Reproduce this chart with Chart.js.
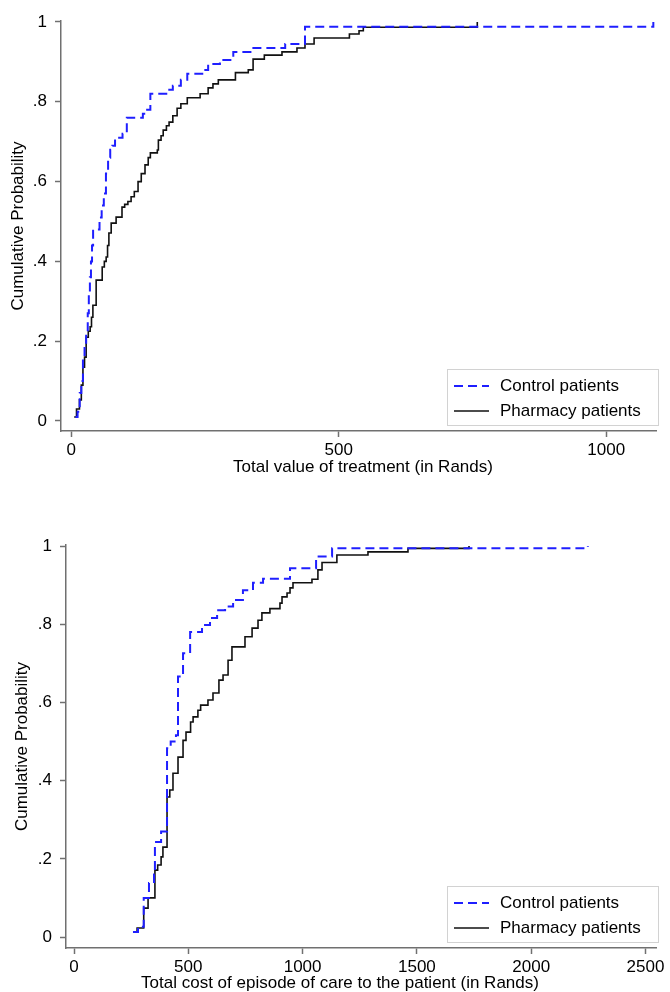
<!DOCTYPE html>
<html>
<head>
<meta charset="utf-8">
<title>Cumulative distributions</title>
<script src="https://cdn.jsdelivr.net/npm/chart.js@4.4.1/dist/chart.umd.min.js"></script>
<style>
  html, body { margin: 0; padding: 0; background: #fff; }
  canvas { display: block; }
</style>
</head>
<body>
<canvas id="valueChart" width="670" height="496"></canvas>
<canvas id="costChart" width="670" height="496"></canvas>
<script>
const seriesLabels = ['Control patients', 'Pharmacy patients'];
const yTitle = 'Cumulative Probability';

// top panel: total value of treatment
const valueControlX = [8, 12, 16, 19, 22, 25, 28, 31, 33, 35, 37, 39, 41, 53, 57, 61, 65, 69, 73, 77, 82, 96, 104, 134, 142, 148, 181, 190, 205, 217, 245, 256, 278, 303, 335, 400, 437, 1088];
const valueControlY = [0.01, 0.023, 0.07, 0.10, 0.16, 0.19, 0.22, 0.27, 0.32, 0.36, 0.40, 0.44, 0.48, 0.51, 0.54, 0.57, 0.62, 0.66, 0.68, 0.69, 0.71, 0.72, 0.76, 0.77, 0.78, 0.82, 0.83, 0.84, 0.855, 0.87, 0.88, 0.895, 0.905, 0.925, 0.935, 0.945, 0.988, 1.0];
const valuePharmacyX = [5.6, 10, 15.5, 19, 22, 25, 28, 32, 35.5, 38, 40.6, 46.7, 58, 62, 65.4, 68, 70.5, 74.8, 84, 95, 100, 106, 112, 118, 125, 131, 138, 144, 148, 161, 163, 168, 172, 178, 183, 190, 198, 205, 217, 241, 256, 265, 275, 307, 331, 340, 361, 394, 422, 437, 454, 520, 538, 546, 759];
const valuePharmacyY = [0.01, 0.03, 0.053, 0.09, 0.135, 0.16, 0.21, 0.225, 0.236, 0.26, 0.29, 0.353, 0.386, 0.40, 0.411, 0.44, 0.471, 0.496, 0.511, 0.536, 0.543, 0.55, 0.562, 0.575, 0.60, 0.62, 0.642, 0.66, 0.672, 0.679, 0.704, 0.715, 0.729, 0.74, 0.749, 0.765, 0.784, 0.795, 0.81, 0.82, 0.835, 0.845, 0.855, 0.873, 0.88, 0.907, 0.917, 0.925, 0.935, 0.945, 0.96, 0.97, 0.978, 0.987, 1.0];
const valueTicks = [0, 500, 1000];
const valueTickLabels = ['0', '500', '1000'];
const valueTitle = 'Total value of treatment (in Rands)';

// bottom panel: total cost of episode of care
const costControlX = [258, 280, 305, 328, 350, 354, 381, 407, 423, 446, 455, 477, 508, 560, 595, 626, 661, 696, 739, 783, 827, 945, 1059, 1129, 2248];
const costControlY = [0.013, 0.026, 0.10, 0.138, 0.16, 0.243, 0.27, 0.483, 0.50, 0.516, 0.666, 0.726, 0.78, 0.798, 0.816, 0.836, 0.845, 0.862, 0.887, 0.906, 0.916, 0.943, 0.973, 0.994, 1.0];
const costPharmacyX = [258, 276, 305, 324, 354, 366, 381, 389, 407, 419, 433, 455, 477, 490, 510, 521, 542, 554, 586, 608, 634, 652, 674, 691, 748, 779, 805, 822, 857, 901, 910, 932, 945, 958, 1041, 1067, 1085, 1150, 1286, 1461, 1728];
const costPharmacyY = [0.0128, 0.023, 0.074, 0.10, 0.171, 0.184, 0.205, 0.23, 0.358, 0.376, 0.419, 0.46, 0.503, 0.524, 0.55, 0.563, 0.58, 0.593, 0.606, 0.624, 0.657, 0.67, 0.708, 0.742, 0.768, 0.79, 0.81, 0.829, 0.84, 0.854, 0.87, 0.88, 0.893, 0.906, 0.915, 0.939, 0.958, 0.977, 0.985, 0.994, 1.0];
const costTicks = [0, 500, 1000, 1500, 2000, 2500];
const costTickLabels = ['0', '500', '1000', '1500', '2000', '2500'];
const costTitle = 'Total cost of episode of care to the patient (in Rands)';

const probTicks = [0, 0.2, 0.4, 0.6, 0.8, 1];
const probTickLabels = ['0', '.2', '.4', '.6', '.8', '1'];

const fontFamily = "'Liberation Sans', Arial, Helvetica, sans-serif";
Chart.defaults.font.family = fontFamily;
Chart.defaults.font.size = 17;
Chart.defaults.color = '#000';

const axisGrey = '#707070';
const controlColor = '#1f1fff';
const pharmacyColor = '#111111';

const toPoints = (xs, ys) => xs.map((x, i) => ({ x: x, y: ys[i] }));

// stata style legend box, inside the plot at the bottom right
const legendBox = {
  id: 'legendBox',
  afterDraw(chart) {
    const { ctx, chartArea } = chart;
    const w = 211, h = 56;
    const x = chartArea.right + 2 - w;
    const y = chartArea.bottom - 6 - h;
    ctx.save();
    ctx.fillStyle = '#fff';
    ctx.fillRect(x, y, w, h);
    ctx.strokeStyle = '#d2d2d2';
    ctx.lineWidth = 1;
    ctx.strokeRect(x + 0.5, y + 0.5, w, h);
    chart.data.datasets.forEach((ds, i) => {
      const cy = y + 17 + i * 25;
      ctx.strokeStyle = ds.borderColor;
      ctx.lineWidth = ds.borderWidth;
      ctx.setLineDash(ds.borderDash || []);
      ctx.beginPath();
      ctx.moveTo(x + 7, cy);
      ctx.lineTo(x + 42, cy);
      ctx.stroke();
      ctx.setLineDash([]);
      ctx.fillStyle = '#000';
      ctx.font = '17px ' + fontFamily;
      ctx.textBaseline = 'middle';
      ctx.fillText(ds.label, x + 53, cy);
    });
    ctx.restore();
  }
};

const xTitle = {
  id: 'xTitle',
  afterDraw(chart, args, opts) {
    const ctx = chart.ctx;
    ctx.save();
    ctx.font = '17px ' + fontFamily;
    ctx.fillStyle = '#000';
    ctx.textAlign = 'center';
    ctx.textBaseline = 'middle';
    ctx.fillText(opts.text, opts.x, opts.y);
    ctx.restore();
  }
};

function drawPanel(id, cfg) {
  new Chart(document.getElementById(id), {
    type: 'line',
    data: {
      datasets: [{
        label: seriesLabels[0],
        data: toPoints(cfg.controlX, cfg.controlY),
        borderColor: controlColor,
        borderWidth: 2,
        borderDash: [9, 5],
        stepped: true,
        pointRadius: 0,
        fill: false
      }, {
        label: seriesLabels[1],
        data: toPoints(cfg.pharmX, cfg.pharmY),
        borderColor: pharmacyColor,
        borderWidth: 1.6,
        stepped: true,
        pointRadius: 0,
        fill: false
      }]
    },
    options: {
      responsive: false,
      animation: false,
      layout: { padding: cfg.padding },
      plugins: {
        legend: { display: false },
        tooltip: { enabled: false },
        xTitle: { text: cfg.xTitle, x: cfg.xTitleX, y: cfg.xTitleY }
      },
      scales: {
        x: {
          type: 'linear',
          min: cfg.xMin,
          max: cfg.xMax,
          afterBuildTicks: (s) => { s.ticks = cfg.xTicks.map(v => ({ value: v })); },
          afterFit: (s) => { s.height = cfg.xAxisHeight; },
          ticks: {
            padding: 3,
            maxRotation: 0,
            autoSkip: false,
            callback: (v, i) => cfg.xTickLabels[i]
          },
          grid: { drawOnChartArea: false, tickLength: 6, tickColor: axisGrey, tickWidth: 1.5 },
          border: { color: axisGrey, width: 1.5 }
        },
        y: {
          type: 'linear',
          min: cfg.yMin,
          max: cfg.yMax,
          afterBuildTicks: (s) => { s.ticks = probTicks.map(v => ({ value: v })); },
          afterFit: (s) => { s.width = cfg.yAxisWidth; },
          ticks: {
            padding: 8,
            autoSkip: false,
            callback: (v, i) => probTickLabels[i]
          },
          grid: { drawOnChartArea: false, tickLength: 6, tickColor: axisGrey, tickWidth: 1.5 },
          border: { color: axisGrey, width: 1.5 },
          title: { display: true, text: yTitle, padding: { top: cfg.yTitlePad, bottom: 0 } }
        }
      }
    },
    plugins: [legendBox, xTitle]
  });
}

drawPanel('valueChart', {
  controlX: valueControlX, controlY: valueControlY,
  pharmX: valuePharmacyX, pharmY: valuePharmacyY,
  xTicks: valueTicks, xTickLabels: valueTickLabels,
  xMin: -19, xMax: 1093,
  yMin: -0.0251, yMax: 1.0025,
  padding: { top: 21, right: 14, bottom: 0, left: 0 },
  xAxisHeight: 65, yAxisWidth: 61, yTitlePad: 8,
  xTitle: valueTitle, xTitleX: 363, xTitleY: 467
});

drawPanel('costChart', {
  controlX: costControlX, controlY: costControlY,
  pharmX: costPharmacyX, pharmY: costPharmacyY,
  xTicks: costTicks, xTickLabels: costTickLabels,
  xMin: -35, xMax: 2546,
  yMin: -0.0281, yMax: 1.0026,
  padding: { top: 49, right: 14, bottom: 0, left: 0 },
  xAxisHeight: 44, yAxisWidth: 66, yTitlePad: 12,
  xTitle: costTitle, xTitleX: 340, xTitleY: 487
});
</script>
</body>
</html>
